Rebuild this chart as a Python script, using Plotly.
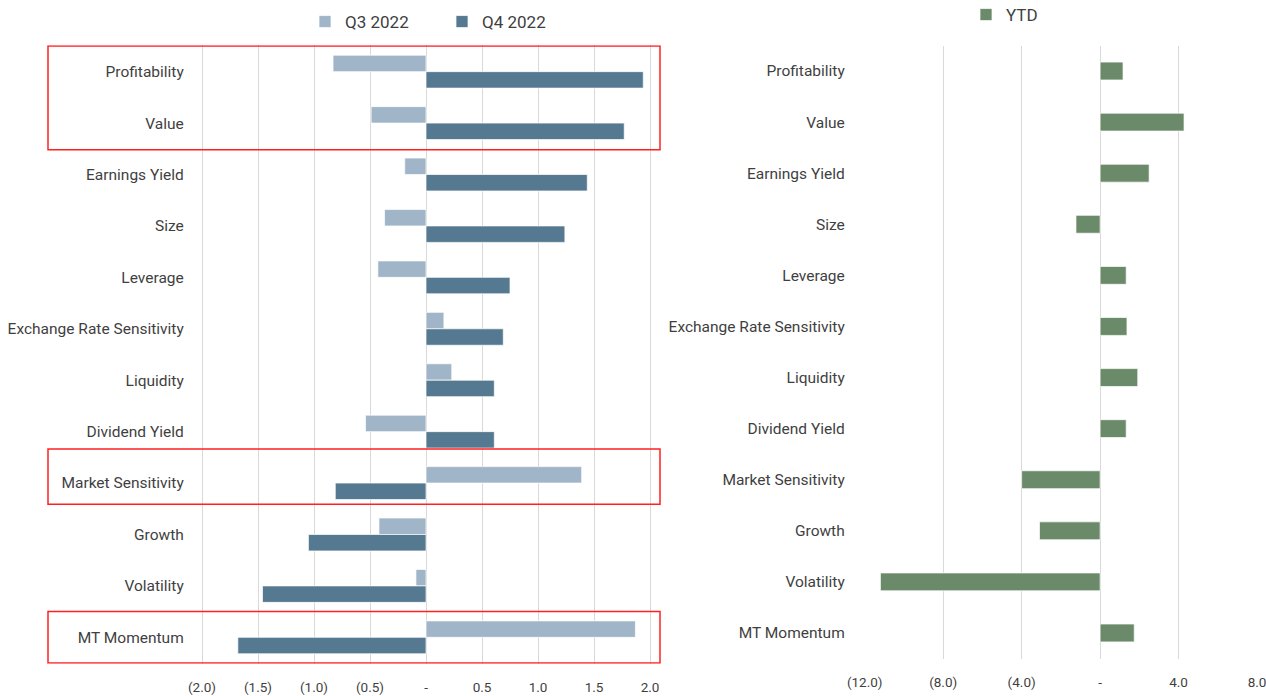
import plotly.graph_objects as go

categories = ["Profitability", "Value", "Earnings Yield", "Size", "Leverage",
              "Exchange Rate Sensitivity", "Liquidity", "Dividend Yield",
              "Market Sensitivity", "Growth", "Volatility", "MT Momentum"]
q3_2022 = [-0.83, -0.49, -0.19, -0.37, -0.43, 0.16, 0.23, -0.54, 1.39, -0.42, -0.09, 1.87]
q4_2022 = [1.94, 1.77, 1.44, 1.24, 0.75, 0.69, 0.61, 0.61, -0.81, -1.05, -1.46, -1.68]
ytd = [1.17, 4.28, 2.5, -1.23, 1.33, 1.37, 1.92, 1.33, -4.0, -3.09, -11.2, 1.74]

left_tickvals = [-2.0, -1.5, -1.0, -0.5, 0, 0.5, 1.0, 1.5, 2.0]
left_ticktext = ["(2.0)", "(1.5)", "(1.0)", "(0.5)", "-", "0.5", "1.0", "1.5", "2.0"]
right_tickvals = [-12, -8, -4, 0, 4, 8]
right_ticktext = ["(12.0)", "(8.0)", "(4.0)", "-", "4.0", "8.0"]

FONT = "Roboto, Liberation Sans, sans-serif"
TXT = "#3F3F3F"
C_Q3 = "#A0B6C8"
C_Q4 = "#557991"
C_YTD = "#6B8A69"
GRID = "#D9D9D9"
W, H = 1266, 696

# axis ranges (slightly padded so the outer grid lines are drawn)
L_RANGE = [-2.02, 2.02]
R_RANGE = [-12.05, 8.03]
L_ZERO, L_UNIT = 426.0, 112.0     # screen px of 0 and px per unit (left panel)
R_ZERO, R_UNIT = 1100.1, 19.615   # same for right panel


def px_x(v):
    return v / W


def px_y(v):
    return 1 - v / H


fig = go.Figure()
fig.add_trace(go.Bar(y=categories, x=q3_2022, orientation="h", name="Q3 2022",
                     marker=dict(color=C_Q3, line=dict(color="rgba(255,255,255,0.7)", width=1)),
                     xaxis="x", yaxis="y", legend="legend"))
fig.add_trace(go.Bar(y=categories, x=q4_2022, orientation="h", name="Q4 2022",
                     marker=dict(color=C_Q4, line=dict(color="rgba(255,255,255,0.7)", width=1)),
                     xaxis="x", yaxis="y", legend="legend"))
fig.add_trace(go.Bar(y=categories, x=ytd, orientation="h", name="YTD", width=0.35,
                     marker=dict(color=C_YTD, line=dict(color="rgba(255,255,255,0.7)", width=1)),
                     xaxis="x2", yaxis="y2", legend="legend2"))

xaxis_common = dict(showline=False, zeroline=False, ticks="", automargin=False,
                    showgrid=True, gridcolor=GRID, gridwidth=1, ticklabelstandoff=14,
                    ticklabeloverflow="allow",
                    tickfont=dict(family=FONT, size=13.5, color=TXT))
yaxis_common = dict(categoryorder="array", categoryarray=categories, autorange="reversed",
                    showgrid=False, showline=False, zeroline=False, ticks="", automargin=False,
                    tickfont=dict(family=FONT, size=15.5, color=TXT))

l_dom = [px_x(L_ZERO + L_RANGE[0] * L_UNIT), px_x(L_ZERO + L_RANGE[1] * L_UNIT)]
r_dom = [px_x(R_ZERO + R_RANGE[0] * R_UNIT), px_x(R_ZERO + R_RANGE[1] * R_UNIT)]

fig.update_layout(
    width=W, height=H,
    margin=dict(l=0, r=0, t=0, b=0, autoexpand=False),
    paper_bgcolor="white", plot_bgcolor="white",
    barmode="group", bargap=0.36, bargroupgap=0,
    font=dict(family=FONT, color=TXT),
    xaxis=dict(domain=l_dom, range=L_RANGE, tickvals=left_tickvals,
               ticktext=left_ticktext, anchor="y", **xaxis_common),
    yaxis=dict(domain=[px_y(663.8), px_y(45.2)], anchor="x", ticklabelstandoff=15,
               **yaxis_common),
    xaxis2=dict(domain=r_dom, range=R_RANGE, tickvals=right_tickvals,
                ticktext=right_ticktext, anchor="y2", **xaxis_common),
    yaxis2=dict(domain=[px_y(658.5), px_y(45.5)], anchor="x2", ticklabelstandoff=18,
                **yaxis_common),
    legend=dict(orientation="h", x=px_x(305), xanchor="left", y=px_y(22), yanchor="middle",
                font=dict(family=FONT, size=17, color=TXT), bgcolor="rgba(0,0,0,0)",
                itemclick=False, entrywidth=92, entrywidthmode="pixels"),
    legend2=dict(orientation="h", x=px_x(966), xanchor="left", y=px_y(15), yanchor="middle",
                 font=dict(family=FONT, size=17, color=TXT), bgcolor="rgba(0,0,0,0)",
                 itemclick=False),
)

# red highlight boxes around selected factors (left panel)
boxes = [(-0.5, 1.52), (7.34, 8.41), (10.5, 11.5)]
for y0, y1 in boxes:
    fig.add_shape(type="rect", xref="paper", yref="y", x0=px_x(48), x1=px_x(660),
                  y0=y0, y1=y1, line=dict(color="#FF2020", width=1.5),
                  fillcolor="rgba(0,0,0,0)", layer="above")

# remove the default 8px page margin so the 1266x696 figure fills the window exactly
fig.write_html("out.html", config={"displayModeBar": False},
               post_script="document.body.style.margin='0px';")
